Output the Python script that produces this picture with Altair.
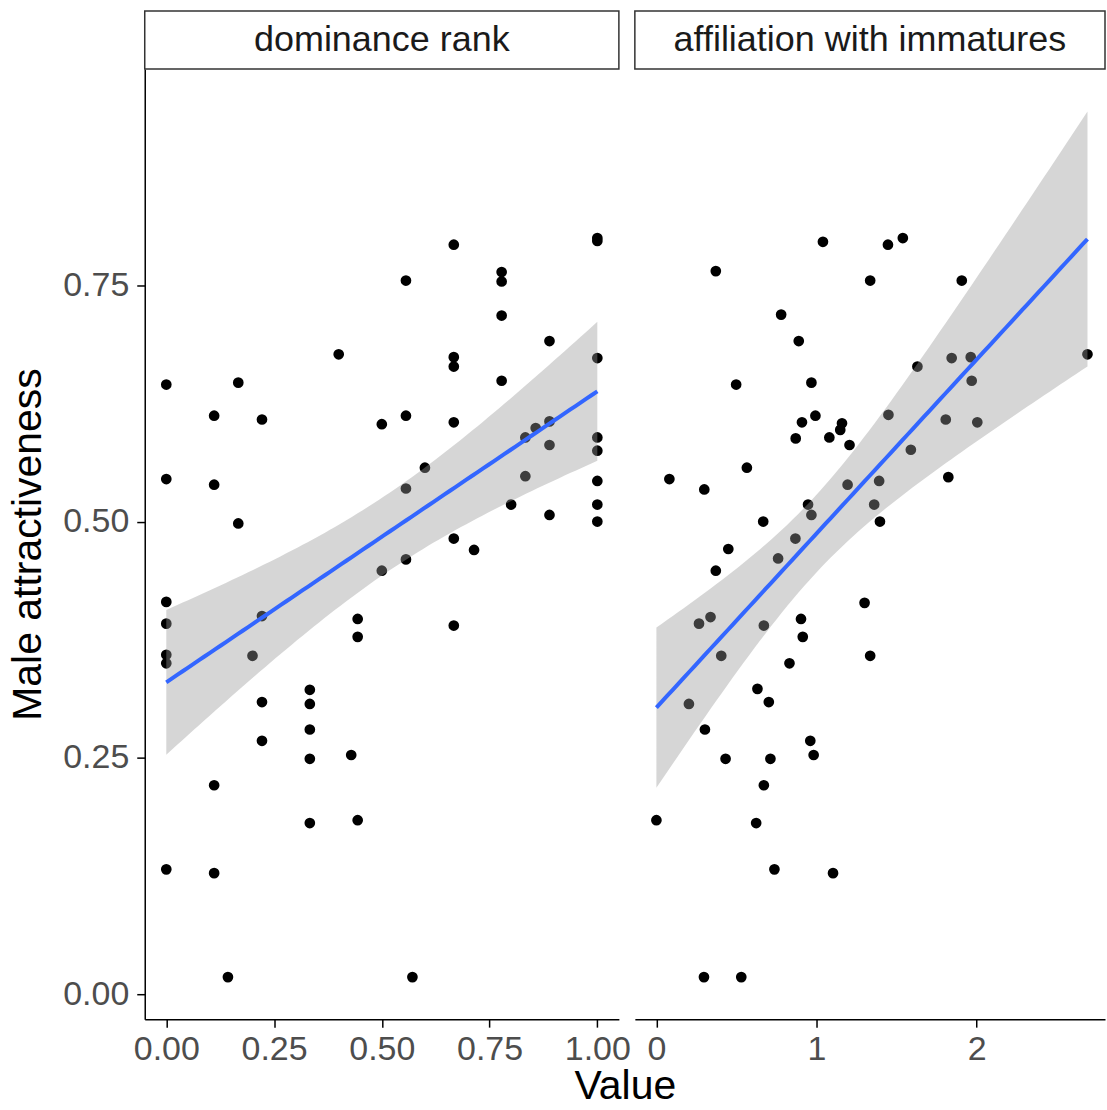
import altair as alt
import numpy as np
import pandas as pd

# ---- data ----
dom_x = [0, 0, 0, 0, 0, 0, 0,
         0.111, 0.111, 0.111, 0.111, 0.143, 0.167, 0.167, 0.2,
         0.222, 0.222, 0.222, 0.222,
         0.333, 0.333, 0.333, 0.333, 0.333,
         0.4, 0.429, 0.444, 0.444, 0.444, 0.5, 0.5,
         0.556, 0.556, 0.556, 0.556, 0.571, 0.6,
         0.667, 0.667, 0.667, 0.667, 0.667, 0.667, 0.714,
         0.778, 0.778, 0.778, 0.778, 0.8, 0.833, 0.833, 0.857,
         0.889, 0.889, 0.889, 0.889,
         1.0, 1.0, 1.0, 1.0, 1.0, 1.0, 1.0, 1.0]
dom_y = [0.645, 0.545, 0.415, 0.392, 0.359, 0.350, 0.132,
         0.612, 0.539, 0.221, 0.128, 0.018, 0.647, 0.498, 0.358,
         0.608, 0.400, 0.309, 0.268,
         0.322, 0.307, 0.280, 0.249, 0.181,
         0.677, 0.253, 0.397, 0.378, 0.184, 0.603, 0.448,
         0.755, 0.612, 0.535, 0.460, 0.018, 0.557,
         0.793, 0.674, 0.664, 0.605, 0.482, 0.390, 0.470,
         0.764, 0.754, 0.718, 0.649, 0.518, 0.589, 0.548, 0.599,
         0.691, 0.606, 0.581, 0.507,
         0.800, 0.797, 0.673, 0.589, 0.575, 0.543, 0.518, 0.500]

aff_x = [1.040, 0.371, 1.335, 0.779, 0.889, 0.498, 0.968, 0.993, 0.909, 0.870,
         1.159, 1.148, 1.080, 1.206, 0.081, 0.299, 0.565, 1.194, 0.947, 0.968,
         0.667, 1.539, 1.446, 1.907, 1.630, 1.844, 1.963, 1.969, 2.692, 1.449,
         1.807, 2.004, 1.589, 1.391, 1.823, 1.360, 1.396, 0.868, 0.449, 0.760,
         0.371, 1.300, 0.338, 0.266, 0.903, 0.914, 0.671, 1.335, 0.405, 0.831,
         0.631, 0.702, 0.203, 0.303, 0.961, 0.982, 0.432, 0.712, 0.671, 0.0,
         0.623, 0.737, 1.103, 0.297, 0.530]
aff_y = [0.796, 0.765, 0.755, 0.719, 0.691, 0.645, 0.647, 0.612, 0.605, 0.588,
         0.604, 0.597, 0.589, 0.581, 0.545, 0.534, 0.557, 0.539, 0.518, 0.507,
         0.500, 0.800, 0.793, 0.755, 0.664, 0.673, 0.674, 0.649, 0.677, 0.613,
         0.608, 0.605, 0.576, 0.543, 0.547, 0.518, 0.500, 0.482, 0.471, 0.461,
         0.448, 0.414, 0.399, 0.392, 0.397, 0.378, 0.390, 0.358, 0.358, 0.350,
         0.323, 0.309, 0.307, 0.280, 0.268, 0.253, 0.249, 0.249, 0.221, 0.184,
         0.181, 0.132, 0.128, 0.018, 0.018]

panel_labels = ["dominance rank", "affiliation with immatures"]
y_ticks = [0.0, 0.25, 0.5, 0.75]

# ---- linear fit with 95% confidence band (like geom_smooth(method="lm")) ----
def lm_band(x, y, t=1.999, n_grid=80):
    x = np.asarray(x, float)
    y = np.asarray(y, float)
    n = len(x)
    xm, ym = x.mean(), y.mean()
    sxx = ((x - xm) ** 2).sum()
    b = ((x - xm) * (y - ym)).sum() / sxx
    a = ym - b * xm
    s = np.sqrt(((y - (a + b * x)) ** 2).sum() / (n - 2))
    g = np.linspace(x.min(), x.max(), n_grid)
    fit = a + b * g
    se = s * np.sqrt(1.0 / n + (g - xm) ** 2 / sxx)
    return pd.DataFrame({"x": g, "fit": fit, "lo": fit - t * se, "hi": fit + t * se})

H = 952
W_L = 475
W_R = 471
Y_DOM = [-0.0265, 0.979]

FONT = "Liberation Sans"


def panel(xs, ys, label, x_dom, width, x_ticks, x_fmt, show_y, show_xtitle):
    pts = pd.DataFrame({"x": xs, "y": ys})
    band = lm_band(xs, ys)
    lab = pd.DataFrame({"label": [label]})

    x_axis = alt.Axis(
        values=x_ticks, format=x_fmt, grid=False,
        labelFontSize=34, labelColor="#4D4D4D", labelFont=FONT, labelPadding=5,
        tickSize=8, tickColor="black", tickWidth=1.5,
        domainColor="black", domainWidth=1.5,
        labelFlush=False, labelOverlap=False,
        title="Value" if show_xtitle else None,
        titleFontSize=41, titleFont=FONT, titleFontWeight="normal", titleColor="black",
        titlePadding=0, titleX=481, titleAlign="center",
    )
    if show_y:
        y_axis = alt.Axis(
            values=y_ticks, format=".2f", grid=False,
            labelFontSize=34, labelColor="#4D4D4D", labelFont=FONT, labelPadding=8,
            tickSize=8, tickColor="black", tickWidth=1.5,
            domainColor="black", domainWidth=1.5,
            labelFlush=False,
            title="Male attractiveness",
            titleFontSize=41, titleFont=FONT, titleFontWeight="normal", titleColor="black",
            titlePadding=13,
        )
    else:
        y_axis = None

    xs_ = alt.Scale(domain=x_dom, nice=False, zero=False)
    ys_ = alt.Scale(domain=Y_DOM, nice=False, zero=False)

    points = alt.Chart(pts).mark_circle(size=115, color="black", opacity=1).encode(
        x=alt.X("x:Q", scale=xs_, axis=x_axis),
        y=alt.Y("y:Q", scale=ys_, axis=y_axis),
    )
    ribbon = alt.Chart(band).mark_area(color="#999999", opacity=0.4).encode(
        x=alt.X("x:Q", scale=xs_),
        y=alt.Y("lo:Q", scale=ys_),
        y2="hi:Q",
    )
    line = alt.Chart(band).mark_line(color="#3366FF", strokeWidth=4).encode(
        x=alt.X("x:Q", scale=xs_),
        y=alt.Y("fit:Q", scale=ys_),
    )
    strip_box = alt.Chart(lab).mark_rect(fill="white", stroke="#333333", strokeWidth=1.5).encode(
        x=alt.value(0), x2=alt.value(width), y=alt.value(-58), y2=alt.value(0),
    )
    strip_text = alt.Chart(lab).mark_text(
        fontSize=36, font=FONT, color="#1A1A1A", baseline="middle", align="center"
    ).encode(
        x=alt.value(width / 2), y=alt.value(-29), text="label:N",
    )
    return alt.layer(points, ribbon, line, strip_box, strip_text).properties(width=width, height=H)


left = panel(dom_x, dom_y, panel_labels[0], [-0.05, 1.05], W_L,
             [0.0, 0.25, 0.5, 0.75, 1.0], ".2f", True, True)
right = panel(aff_x, aff_y, panel_labels[1], [-0.1346, 2.8015], W_R,
              [0, 1, 2], "d", False, False)

chart = alt.hconcat(left, right, spacing=16, bounds="flush").resolve_scale(
    x="independent", y="independent"
).properties(
    padding={"left": 7, "top": 8, "right": 0, "bottom": 0},
    background="white",
).configure_view(stroke="transparent")

chart.save("out.html", embed_options={"renderer": "svg", "actions": False})
